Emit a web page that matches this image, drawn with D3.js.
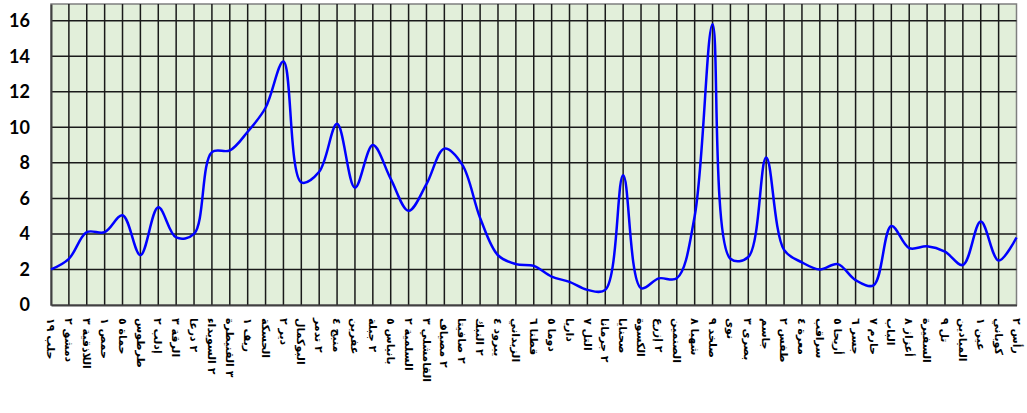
<!DOCTYPE html>
<html>
<head>
<meta charset="utf-8">
<script src="https://cdn.jsdelivr.net/npm/d3@7"></script>
<style>
  body { margin: 0; background: #fff; }
  svg { display: block; }
</style>
</head>
<body>
<svg id="chart" width="1027" height="413"></svg>
<script>
// values, one per category
const values = [2.0, 2.6, 4.1, 4.1, 5.05, 2.8, 5.5, 3.8, 4.0, 8.6,
                8.7, 9.75, 11.1, 13.7, 6.9, 7.5, 10.2, 6.6, 9.0, 7.1,
                5.3, 6.8, 8.8, 7.9, 4.9, 2.8, 2.3, 2.2, 1.6, 1.3,
                0.85, 0.85, 7.3, 0.95, 1.5, 1.5, 5.0, 15.8, 2.6, 2.7,
                8.3, 3.1, 2.4, 2.0, 2.3, 1.4, 1.1, 4.45, 3.2, 3.3,
                3.0, 2.25, 4.7, 2.5, 3.8]

const labels = ["حلب ١٩", "دمشق ٢", "اللاذقية ٣", "حمص ١", "حماة ٥", "طرطوس", "إدلب ٢", "الرقة ٣",
                "٢ درعا", "٢ السويداء", "٣ القنيطرة", "ريف ١", "الحسكة", "دير ٢", "البوكمال", "٢ تدمر",
                "منبج ٤", "عفرين", "٢ جبلة", "بانياس ٥", "السلمية ٢", "القامشلي ٣", "٢ مصياف", "٢ صافيتا",
                "٢ النبك", "يبرود ٤", "الزبداني", "قطنا ٦", "دوما ٥", "داريا", "التل ٧", "٢ جرمانا",
                "صحنايا", "الكسوة", "٢ إزرع", "الصنمين", "شهبا ٨", "صلخد ٩", "نوى", "بصرى ٣",
                "جاسم", "طفس ٢", "معرة ٤", "سراقب", "أريحا ٥", "جسر ٦", "حارم ٧", "الباب",
                "أعزاز ٨", "السفيرة", "تل ٩", "الميادين", "عين ١", "كوباني", "رأس ٢"]

const categories = d3.range(values.length)
const yTicks = [0, 2, 4, 6, 8, 10, 12, 14, 16]

const svg = d3.select('#chart')
const plotLeft = 51, plotRight = 1016.5, plotTop = 4, plotBottom = 305

const xScale = d3.scaleLinear().domain([0, values.length - 1]).range([plotLeft, plotRight])
const yScale = d3.scaleLinear().domain([0, 16.94]).range([plotBottom, plotTop])

// plot area
svg.append('rect')
    .attr('x', plotLeft).attr('y', plotTop)
    .attr('width', plotRight - plotLeft).attr('height', plotBottom - plotTop)
    .attr('fill', '#e2efda')
    .attr('stroke', '#7f7f7f').attr('stroke-width', 1.5)

// vertical grid
svg.append('g')
    .selectAll('line')
    .data(categories.slice(1, -1))
    .enter()
    .append('line')
    .attr('x1', d => xScale(d)).attr('x2', d => xScale(d))
    .attr('y1', plotTop).attr('y2', plotBottom)
    .attr('stroke', '#1a1a1a').attr('stroke-width', 1.5)

// horizontal grid
svg.append('g')
    .selectAll('line')
    .data(yTicks.slice(1))
    .enter()
    .append('line')
    .attr('x1', plotLeft).attr('x2', plotRight)
    .attr('y1', d => yScale(d)).attr('y2', d => yScale(d))
    .attr('stroke', '#1a1a1a').attr('stroke-width', 1.5)

// y axis
const yAxis = d3.axisLeft(yScale).tickValues(yTicks).tickSize(0).tickPadding(21)
const yAxisGroup = svg.append('g').attr('transform', `translate(${plotLeft}, 0)`).call(yAxis)
yAxisGroup.select('.domain').attr('stroke', '#404040').attr('stroke-width', 2)
yAxisGroup.selectAll('text')
    .attr('font-family', 'Lato, "Open Sans", sans-serif')
    .attr('font-weight', 'bold')
    .attr('font-size', 18)
    .attr('fill', '#000')

// x axis line
const xAxis = d3.axisBottom(xScale).tickValues([]).tickSize(0)
const xAxisGroup = svg.append('g').attr('transform', `translate(0, ${plotBottom})`).call(xAxis)
xAxisGroup.select('.domain').attr('stroke', '#404040').attr('stroke-width', 2)

// category labels, vertical
svg.append('g')
    .selectAll('text')
    .data(labels)
    .enter()
    .append('text')
    .attr('transform', (d, i) => `translate(${xScale(i)}, 318) rotate(90)`)
    .attr('dy', '0.35em')
    .attr('font-family', '"DejaVu Sans", sans-serif')
    .attr('font-weight', 'bold')
    .attr('font-size', 11)
    .attr('fill', '#000')
    .text(d => d)

// smoothed line
const line = d3.line()
    .x((d, i) => xScale(i))
    .y(d => yScale(d))
    .curve(d3.curveCatmullRom.alpha(0.5))
svg.append('path')
    .datum(values)
    .attr('fill', 'none')
    .attr('stroke', '#0000ff')
    .attr('stroke-width', 2.5)
    .attr('d', line)
</script>
</body>
</html>
